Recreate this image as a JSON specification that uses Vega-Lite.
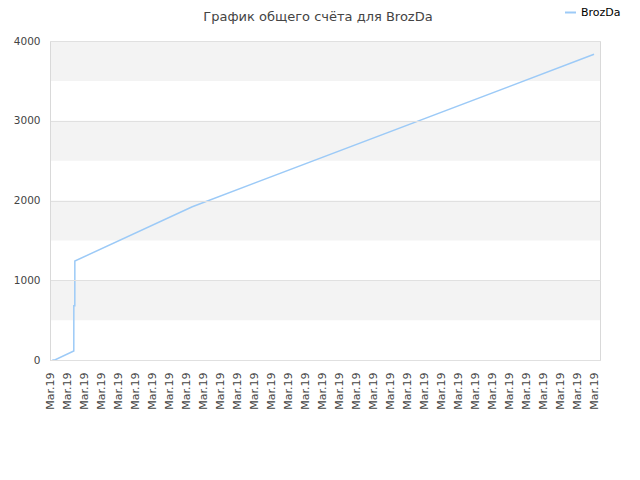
{
  "$schema": "https://vega.github.io/schema/vega-lite/v6.json",
  "autosize": "none",
  "width": 550,
  "height": 319,
  "padding": {"left": 50, "top": 41, "right": 40, "bottom": 120},
  "background": "white",
  "title": {
    "text": "График общего счёта для BrozDa",
    "font": "DejaVu Sans",
    "fontSize": 13,
    "fontWeight": "normal",
    "color": "#444444",
    "anchor": "middle",
    "offset": -18,
    "dx": -7
  },
  "config": {
    "view": {"stroke": "#d9d9d9", "strokeWidth": 1},
    "axis": {"labelFont": "DejaVu Sans", "labelColor": "#444444"}
  },
  "datasets": {
    "bands": [
      {"lo": 3500, "hi": 4000},
      {"lo": 2500, "hi": 3000},
      {"lo": 1500, "hi": 2000},
      {"lo": 500, "hi": 1000}
    ],
    "score": [
      {"time": "2019-03-01T01:37:00", "score": 0, "player": "BrozDa"},
      {"time": "2019-03-01T03:22:00", "score": 0, "player": "BrozDa"},
      {"time": "2019-03-01T16:48:00", "score": 113, "player": "BrozDa"},
      {"time": "2019-03-01T16:49:00", "score": 680, "player": "BrozDa"},
      {"time": "2019-03-01T17:31:00", "score": 680, "player": "BrozDa"},
      {"time": "2019-03-01T17:32:00", "score": 1241, "player": "BrozDa"},
      {"time": "2019-03-05T04:26:00", "score": 1922, "player": "BrozDa"},
      {"time": "2019-03-17T00:00:00", "score": 3833, "player": "BrozDa"}
    ]
  },
  "layer": [
    {
      "data": {"name": "bands"},
      "mark": {"type": "rect", "color": "#f3f3f3"},
      "encoding": {
        "y": {"field": "lo", "type": "quantitative", "scale": {"domain": [0, 4000], "nice": false}},
        "y2": {"field": "hi"}
      }
    },
    {
      "data": {"name": "score"},
      "mark": {"type": "line", "strokeWidth": 1.5},
      "encoding": {
        "x": {
          "field": "time",
          "type": "temporal",
          "scale": {"domain": [{"year": 2019, "month": 3, "date": 1}, {"year": 2019, "month": 3, "date": 17, "hours": 4, "minutes": 12}], "nice": false},
          "axis": {
            "title": null,
            "format": "%b.%y",
            "values": [
              {"year": 2019, "month": 3, "date": 1, "hours": 0}, {"year": 2019, "month": 3, "date": 1, "hours": 12},
              {"year": 2019, "month": 3, "date": 2, "hours": 0}, {"year": 2019, "month": 3, "date": 2, "hours": 12},
              {"year": 2019, "month": 3, "date": 3, "hours": 0}, {"year": 2019, "month": 3, "date": 3, "hours": 12},
              {"year": 2019, "month": 3, "date": 4, "hours": 0}, {"year": 2019, "month": 3, "date": 4, "hours": 12},
              {"year": 2019, "month": 3, "date": 5, "hours": 0}, {"year": 2019, "month": 3, "date": 5, "hours": 12},
              {"year": 2019, "month": 3, "date": 6, "hours": 0}, {"year": 2019, "month": 3, "date": 6, "hours": 12},
              {"year": 2019, "month": 3, "date": 7, "hours": 0}, {"year": 2019, "month": 3, "date": 7, "hours": 12},
              {"year": 2019, "month": 3, "date": 8, "hours": 0}, {"year": 2019, "month": 3, "date": 8, "hours": 12},
              {"year": 2019, "month": 3, "date": 9, "hours": 0}, {"year": 2019, "month": 3, "date": 9, "hours": 12},
              {"year": 2019, "month": 3, "date": 10, "hours": 0}, {"year": 2019, "month": 3, "date": 10, "hours": 12},
              {"year": 2019, "month": 3, "date": 11, "hours": 0}, {"year": 2019, "month": 3, "date": 11, "hours": 12},
              {"year": 2019, "month": 3, "date": 12, "hours": 0}, {"year": 2019, "month": 3, "date": 12, "hours": 12},
              {"year": 2019, "month": 3, "date": 13, "hours": 0}, {"year": 2019, "month": 3, "date": 13, "hours": 12},
              {"year": 2019, "month": 3, "date": 14, "hours": 0}, {"year": 2019, "month": 3, "date": 14, "hours": 12},
              {"year": 2019, "month": 3, "date": 15, "hours": 0}, {"year": 2019, "month": 3, "date": 15, "hours": 12},
              {"year": 2019, "month": 3, "date": 16, "hours": 0}, {"year": 2019, "month": 3, "date": 16, "hours": 12},
              {"year": 2019, "month": 3, "date": 17, "hours": 0}
            ],
            "labelAngle": -90,
            "labelFontSize": 11,
            "labelOverlap": false,
            "labelPadding": 12,
            "ticks": false,
            "domain": true,
            "domainColor": "#d9d9d9",
            "grid": false
          }
        },
        "y": {
          "field": "score",
          "type": "quantitative",
          "axis": {
            "title": null,
            "format": "d",
            "values": [0, 500, 1000, 1500, 2000, 2500, 3000, 3500, 4000],
            "labelFontSize": 10.5,
            "ticks": false,
            "domain": true,
            "domainColor": "#d9d9d9",
            "grid": true,
            "gridColor": "#e0e0e0",
            "labelPadding": 10,
            "zindex": 1
          }
        },
        "color": {
          "field": "player",
          "type": "nominal",
          "scale": {"domain": ["BrozDa"], "range": ["#9ccaf7"]},
          "legend": {
            "title": null,
            "orient": "none",
            "legendX": 514,
            "legendY": -35,
            "symbolType": "stroke",
            "symbolSize": 120,
            "symbolStrokeWidth": 2,
            "labelFont": "DejaVu Sans",
            "labelFontSize": 11,
            "labelColor": "#000000"
          }
        }
      }
    }
  ]
}
